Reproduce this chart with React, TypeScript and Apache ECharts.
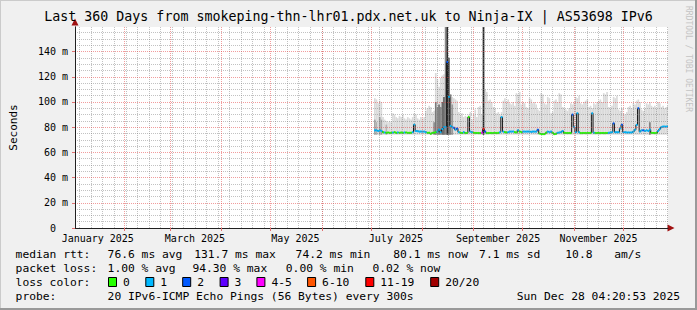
import React, { useEffect, useRef } from "react";
import * as echarts from "echarts";

const TITLE = "Last 360 Days from smokeping-thn-lhr01.pdx.net.uk to Ninja-IX | AS53698 IPv6";
const START_MS = Date.UTC(2025, 0, 2, 4, 20, 53);
const SPAN_DAYS = 360;
const Y_MAX = 159.5;

const MONTH_LABELS = ["January 2025", "March 2025", "May 2025", "July 2025", "September 2025", "November 2025"];
const MONTH_LABEL_DATES = ["2025-01-16", "2025-03-16", "2025-05-16", "2025-07-16", "2025-09-16", "2025-11-16"];
const MONTH_LINE_DATES = ["2025-02-01", "2025-03-01", "2025-04-01", "2025-05-01", "2025-06-01", "2025-07-01", "2025-08-01", "2025-09-01", "2025-10-01", "2025-11-01", "2025-12-01"];
const FIRST_WEEK_DATE = "2025-01-05";
const Y_TICKS = [0, 20, 40, 60, 80, 100, 120, 140];

const FIRST_DAY = 182;
const SMOKE_FLOOR = 74;
const SMOKE_TOP = [
  103, 102, 99, 101, 100, 88, 86, 85, 84, 85,
  84, 91, 90, 88, 87, 89, 88, 90, 87, 86,
  88, 87, 86, 88, 91, 90, 87, 86, 88, 87,
  88, 93, 95, 97, 96, 92, 93, 123, 118, 112,
  119, 121, 122, 160, 160, 135, 106, 104, 103, 102,
  101, 92, 90, 91, 88, 89, 88, 90, 92, 86,
  90, 94, 88, 96, 97, 90, 160, 110, 108, 101,
  102, 100, 96, 95, 91, 92, 90, 92, 101, 103,
  100, 102, 99, 98, 100, 97, 107, 106, 108, 98,
  100, 99, 96, 95, 103, 102, 99, 100, 98, 94,
  93, 107, 106, 99, 98, 104, 103, 91, 92, 101,
  102, 100, 107, 106, 96, 95, 94, 93, 95, 99,
  98, 100, 104, 103, 105, 99, 98, 100, 101, 102,
  96, 97, 95, 99, 98, 100, 101, 102, 100, 107,
  106, 108, 96, 95, 97, 104, 103, 105, 94, 93,
  95, 91, 90, 92, 96, 97, 95, 99, 98, 101,
  102, 100, 94, 93, 95, 99, 98, 100, 97, 96,
  97, 95, 100, 99, 96, 97, 95, 96, 97,
];
const MEDIAN = [
  77.5, 77.5, 77, 77.5, 77, 76, 75.8, 75.5, 75.8, 75.5,
  75.5, 75.8, 76, 75.5, 75.8, 75.5, 75.8, 75.5, 75.8, 75.8,
  75.5, 75.5, 75.5, 76, 82, 77, 76.8, 76.5, 76.5, 76.5,
  76.5, 76, 75.5, 75.5, 74.8, 75.5, 75.5, 76, 76.5, 78,
  76, 78.5, 80, 80, 131.7, 104, 81, 80, 79.5, 78,
  79, 76, 75.5, 75.3, 76, 75.3, 75.3, 88, 76.5, 76,
  75.5, 75.3, 75.3, 75.3, 75.3, 75.5, 78.5, 76.5, 75.3, 75.3,
  75.3, 75.3, 75.3, 75.3, 75.3, 75.5, 76, 88, 76.5, 76,
  75.8, 76, 76.5, 76.5, 76.5, 76, 75.8, 77.5, 76.5, 76,
  76.5, 76.5, 76.5, 76.5, 76.5, 76.3, 76.5, 76.5, 76.5, 78,
  75, 74.5, 74.5, 74.5, 75.5, 76.5, 76, 76.5, 75.5, 74.5,
  74.8, 75.5, 75.8, 76, 77, 75.3, 75.3, 75.3, 75.3, 75.3,
  90, 80, 76, 91, 76, 75.3, 75.3, 75.3, 75.3, 75.3,
  75.3, 75.5, 91, 75.5, 75.3, 75.3, 75.3, 75.3, 75.3, 75.3,
  75.3, 75.3, 75.5, 75.8, 76, 83, 76, 76, 76, 79,
  82, 76, 76, 75.8, 75.8, 75.8, 75.8, 76.5, 78, 81.8,
  95, 76.5, 77.5, 77.5, 77, 77.5, 77, 78, 75.5, 75.3,
  75.3, 75.3, 77, 78.5, 80, 80.5, 80.5, 80.5, 80.5,
];
const LOSS = [
  1, 1, 1, 1, 1, 0, 1, 0, 0, 0,
  0, 1, 0, 0, 1, 0, 0, 0, 1, 0,
  0, 0, 0, 1, 1, 1, 1, 1, 1, 1,
  1, 1, 0, 0, 0, 0, 0, 0, 1, 1,
  1, 1, 1, 1, 2, 1, 1, 1, 2, 1,
  2, 1, 0, 0, 1, 0, 0, 0, 1, 1,
  0, 0, 0, 0, 0, 4, 12, 2, 0, 0,
  0, 0, 0, 0, 0, 0, 1, 1, 1, 0,
  0, 1, 1, 1, 1, 0, 0, 1, 0, 0,
  1, 1, 1, 1, 1, 1, 1, 1, 1, 2,
  0, 0, 0, 0, 0, 1, 1, 1, 0, 0,
  0, 1, 1, 1, 1, 0, 0, 0, 0, 0,
  2, 1, 1, 1, 1, 0, 0, 0, 0, 0,
  0, 0, 1, 1, 0, 0, 0, 0, 0, 0,
  0, 0, 1, 1, 1, 2, 1, 1, 1, 1,
  2, 1, 1, 1, 1, 1, 1, 1, 1, 1,
  2, 1, 1, 2, 1, 1, 1, 1, 0, 0,
  0, 0, 1, 1, 1, 1, 1, 1, 1,
];
const SHADE_DAYS = [182, 183, 185, 186, 189, 218, 219, 220, 221, 222, 223, 224, 225, 226, 227, 228, 229, 248, 349];
const SHADE_TOPS = [86, 84, 88, 86, 82, 84, 100, 96, 98, 96, 100, 104, 160, 160, 135, 106, 98, 160, 84];
const SHADE_COLORS = ["#a6a6a6", "#b0b0b0", "#a0a0a0", "#a8a8a8", "#b4b4b4", "#8c8c8c", "#7a7a7a", "#8a8a8a", "#6e6e6e", "#8a8a8a", "#6a6a6a", "#5a5a5a", "#8a8a8a", "#2a2a2a", "#5c5c5c", "#808080", "#9a9a9a", "#202020", "#7c7c7c"];

const LOSS_LABELS = ["0", "1", "2", "3", "4-5", "6-10", "11-19", "20/20"];
const LOSS_MAX = [0, 1, 2, 3, 5, 10, 19, 20];
const LOSS_COLORS = ["#26ff00", "#00b8ff", "#0059ff", "#5e00ff", "#ff00ff", "#ff5500", "#ff0000", "#a10000"];

const RTT_STATS = ["76.6 ms avg", "131.7 ms max", "74.2 ms min", "80.1 ms now", "7.1 ms sd", "10.8", "am/s"];
const LOSS_STATS = ["1.00 % avg", "94.30 % max", "0.00 % min", "0.02 % now"];
const PROBE_TEXT = "20 IPv6-ICMP Echo Pings (56 Bytes) every 300s";
const DATE_TEXT = "Sun Dec 28 04:20:53 2025";
const ROW_LABELS = ["median rtt:", "packet loss:", "loss color:", "probe:"];

// layout (pixels)
const RTT_X = [107.6, 194.2, 295.6, 393.3, 479.1, 565.3, 614.2];
const LOSS_X = [107.6, 192.4, 285.8, 372.4];
const SWATCH_X = [108, 145.3, 182.2, 219.6, 256.4, 307.1, 365.3, 430.2];
const ROW_Y = [254, 268, 282, 296];

const MONO = '"DejaVu Sans Mono", monospace';
const dayOf = (iso: string) => (Date.parse(iso + "T00:00:00Z") - START_MS) / 86400000;
const bucketOf = (loss: number) => LOSS_MAX.findIndex((m) => loss <= m);

export default function App() {
  const ref = useRef<HTMLDivElement>(null);
  useEffect(() => {
    if (!ref.current) return;
    const chart = echarts.init(ref.current, undefined, { renderer: "svg" });

    const labelDays = MONTH_LABEL_DATES.map(dayOf);
    const monthDays = MONTH_LINE_DATES.map(dayOf);
    const weekDays: number[] = [];
    for (let d = dayOf(FIRST_WEEK_DATE); d < SPAN_DAYS; d += 7) weekDays.push(d);
    const yMinor: number[] = [];
    for (let v = 5; v < Y_MAX; v += 5) if (v % 20 !== 0) yMinor.push(v);
    const yMajor = Y_TICKS.filter((v) => v > 0);

    const minorStyle = { color: "rgba(120,120,120,0.45)", width: 1, type: [1, 1] as any };
    const majorStyle = { color: "rgba(230,60,60,0.5)", width: 1, type: [1, 1] as any };

    const gridLines: any[] = [
      ...weekDays.map((d) => ({ xAxis: d, lineStyle: minorStyle })),
      ...yMinor.map((v) => ({ yAxis: v, lineStyle: minorStyle })),
      ...monthDays.map((d) => ({ xAxis: d, lineStyle: majorStyle })),
      ...yMajor.map((v) => ({ yAxis: v, lineStyle: majorStyle })),
    ];

    const smokeData = SMOKE_TOP.map((t, i) => [FIRST_DAY + i, t]);
    const shadeData = SHADE_DAYS.map((d, i) => [d, SHADE_TOPS[i], i]);
    const medianData = MEDIAN.map((m, i) => [FIRST_DAY + i, m]);
    const lossData = MEDIAN.map((m, i) => [FIRST_DAY + i, m, bucketOf(LOSS[i])]);

    const rectItem = (api: any, d: number, lo: number, hi: number, fill: string) => {
      const p0 = api.coord([d - 0.5, hi]);
      const p1 = api.coord([d + 0.5, lo]);
      return {
        type: "rect",
        shape: { x: p0[0], y: p0[1], width: p1[0] - p0[0], height: p1[1] - p0[1] },
        style: { fill },
      };
    };

    const graphic: any[] = [];
    graphic.push({ type: "rect", shape: { x: 0, y: 0, width: 697, height: 310 }, style: { fill: "none", stroke: "#cbcbcb", lineWidth: 2 }, z: -1 });
    graphic.push({ type: "line", shape: { x1: 0, y1: 309, x2: 697, y2: 309 }, style: { stroke: "#999999", lineWidth: 2 } });
    graphic.push({ type: "line", shape: { x1: 696, y1: 0, x2: 696, y2: 310 }, style: { stroke: "#999999", lineWidth: 2 } });
    graphic.push({
      type: "text", x: 688, y: 6, rotation: -Math.PI / 2,
      style: { text: "RRDTOOL / TOBI OETIKER", font: `8px ${MONO}`, fill: "#c4c4c4", textAlign: "left", verticalAlign: "middle" },
    });
    const txt = (text: string, x: number, y: number, align = "left") => ({
      type: "text", x, y,
      style: { text, font: `11.3px ${MONO}`, fill: "#000000", textAlign: align, verticalAlign: "middle" },
    });
    ROW_LABELS.forEach((t, i) => graphic.push(txt(t, 15.6, ROW_Y[i])));
    RTT_STATS.forEach((t, i) => graphic.push(txt(t, RTT_X[i], ROW_Y[0])));
    LOSS_STATS.forEach((t, i) => graphic.push(txt(t, LOSS_X[i], ROW_Y[1])));
    LOSS_LABELS.forEach((t, i) => {
      graphic.push({
        type: "rect", shape: { x: SWATCH_X[i] + 0.5, y: ROW_Y[2] - 4.5, width: 8, height: 9 },
        style: { fill: LOSS_COLORS[i], stroke: "#000000", lineWidth: 1 },
      });
      graphic.push(txt(t, SWATCH_X[i] + 15, ROW_Y[2]));
    });
    graphic.push(txt(PROBE_TEXT, 107.6, ROW_Y[3]));
    graphic.push(txt(DATE_TEXT, 680, ROW_Y[3], "right"));

    const option: any = {
      animation: false,
      backgroundColor: "#f0f0f0",
      textStyle: { fontFamily: MONO },
      title: {
        text: TITLE, left: "center", top: 10, padding: 0,
        textStyle: { fontFamily: MONO, fontSize: 13.3, fontWeight: "normal", color: "#000000" },
      },
      grid: { left: 67, top: 27, width: 601, height: 201, show: true, backgroundColor: "#ffffff", borderWidth: 0 },
      xAxis: [
        {
          type: "value", min: 0, max: SPAN_DAYS, position: "bottom", z: 5,
          axisLine: { show: true, onZero: false, lineStyle: { color: "#202020", width: 1 } },
          axisTick: { show: true, customValues: monthDays, length: 3, lineStyle: { color: "#e07070" } },
          axisLabel: {
            show: true, customValues: labelDays, margin: 5, color: "#000000", fontSize: 10, fontFamily: MONO,
            formatter: (v: number) => {
              const i = labelDays.findIndex((d) => Math.abs(d - v) < 0.01);
              return i >= 0 ? MONTH_LABELS[i] : "";
            },
          },
          splitLine: { show: false },
        },
        {
          type: "value", min: 0, max: SPAN_DAYS, position: "bottom", z: 4,
          axisLine: { show: true, onZero: false, symbol: ["none", "triangle"], symbolSize: [7, 7], symbolOffset: [0, 3], lineStyle: { color: "#a01010", width: 1 } },
          axisTick: { show: false }, axisLabel: { show: false }, splitLine: { show: false },
        },
      ],
      yAxis: [
        {
          type: "value", min: 0, max: Y_MAX, position: "left", z: 5,
          name: "Seconds", nameLocation: "middle", nameRotate: 90, nameGap: 56,
          nameTextStyle: { fontFamily: MONO, fontSize: 11, color: "#000000" },
          axisLine: { show: true, onZero: false, lineStyle: { color: "#202020", width: 1 } },
          axisTick: { show: true, customValues: Y_TICKS, length: 3, lineStyle: { color: "#e07070" } },
          axisLabel: {
            show: true, customValues: Y_TICKS, margin: 7, color: "#000000", fontSize: 10, fontFamily: MONO,
            formatter: (v: number) => (v === 0 ? "{z|0}" : `${v} m`),
            rich: { z: { padding: [0, 12, 0, 0], fontSize: 10, fontFamily: MONO, color: "#000000" } },
          },
          splitLine: { show: false },
        },
        {
          type: "value", min: 0, max: Y_MAX, position: "left", z: 4,
          axisLine: { show: true, onZero: false, symbol: ["none", "triangle"], symbolSize: [7, 7], symbolOffset: [0, 5], lineStyle: { color: "#a01010", width: 1 } },
          axisTick: { show: false }, axisLabel: { show: false }, splitLine: { show: false },
        },
      ],
      series: [
        {
          type: "custom", name: "smoke", z: 1, clip: true,
          data: smokeData, encode: { x: 0, y: 1 },
          renderItem: (_p: any, api: any) => rectItem(api, api.value(0), SMOKE_FLOOR, api.value(1), "#dadada"),
        },
        {
          type: "custom", name: "smokeShade", z: 2, clip: true,
          data: shadeData, encode: { x: 0, y: 1 },
          renderItem: (_p: any, api: any) => rectItem(api, api.value(0), SMOKE_FLOOR, api.value(1), SHADE_COLORS[api.value(2)]),
        },
        {
          type: "line", name: "median", z: 3, step: "middle", symbol: "none",
          data: medianData, lineStyle: { color: "#1a1a1a", width: 1 },
        },
        {
          type: "custom", name: "loss", z: 4, clip: true,
          data: lossData, encode: { x: 0, y: 1 },
          renderItem: (_p: any, api: any) => {
            const d = api.value(0), m = api.value(1);
            const a = api.coord([d - 0.5, m]);
            const b = api.coord([d + 0.5, m]);
            return {
              type: "line",
              shape: { x1: a[0], y1: a[1], x2: b[0], y2: b[1] },
              style: { stroke: LOSS_COLORS[api.value(2)], lineWidth: 2 },
            };
          },
        },
        {
          type: "line", name: "grid", z: 6, data: [], silent: true,
          markLine: { silent: true, symbol: ["none", "none"], label: { show: false }, animation: false, data: gridLines },
        },
      ],
      graphic,
    };
    chart.setOption(option);
    return () => chart.dispose();
  }, []);
  return <div ref={ref} style={{ position: "fixed", left: 0, top: 0, width: 697, height: 310 }} />;
}
